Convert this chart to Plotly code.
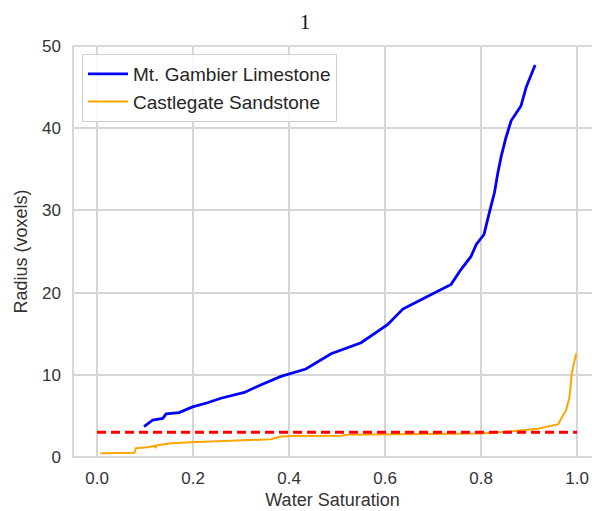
import plotly.graph_objects as go

# --- data ---
gambier_sw = [0.098, 0.105, 0.116, 0.137, 0.144, 0.171, 0.199, 0.23, 0.258, 0.307,
              0.342, 0.383, 0.421, 0.435, 0.4875, 0.55, 0.605, 0.637, 0.682, 0.7375,
              0.758, 0.779, 0.79, 0.806, 0.817, 0.828, 0.835, 0.842, 0.852, 0.8625,
              0.883, 0.894, 0.9125]
gambier_r = [3.7, 4.0, 4.5, 4.7, 5.24, 5.4, 6.1, 6.6, 7.15, 7.85,
             8.8, 9.8, 10.4, 10.7, 12.56, 13.9, 16.1, 18.0, 19.35, 21.0,
             22.8, 24.4, 25.85, 27.07, 29.7, 32.2, 34.6, 36.6, 38.9, 40.9,
             42.7, 45.0, 47.7]

castle_sw = [0.007, 0.078, 0.081, 0.105, 0.12, 0.122, 0.124, 0.154, 0.196, 0.3,
             0.3625, 0.38, 0.404, 0.51, 0.518, 0.8, 0.843, 0.869, 0.918, 0.942,
             0.961, 0.967, 0.977, 0.984, 0.989, 0.998]
castle_r = [0.45, 0.52, 1.06, 1.18, 1.35, 1.1, 1.4, 1.67, 1.8, 2.0,
            2.15, 2.45, 2.55, 2.6, 2.7, 2.85, 3.0, 3.15, 3.45, 3.75,
            4.0, 4.7, 5.7, 7.2, 10.2, 12.6]

threshold_sw = [0.0, 1.0]
threshold_r = [3.0, 3.0]

x_ticks = [0.0, 0.2, 0.4, 0.6, 0.8, 1.0]
x_tick_labels = ["0.0", "0.2", "0.4", "0.6", "0.8", "1.0"]
y_ticks = [0, 10, 20, 30, 40, 50]

fig = go.Figure()
fig.add_trace(go.Scatter(x=gambier_sw, y=gambier_r, mode="lines",
                         name="Mt. Gambier Limestone",
                         line=dict(color="#0000ff", width=2.8)))
fig.add_trace(go.Scatter(x=castle_sw, y=castle_r, mode="lines",
                         name="Castlegate Sandstone",
                         line=dict(color="#ffa500", width=2)))
fig.add_trace(go.Scatter(x=threshold_sw, y=threshold_r, mode="lines",
                         showlegend=False,
                         line=dict(color="#ff0000", width=3, dash="9px,5px")))

grid = "#d6d6d6"
fig.update_layout(
    width=592, height=511,
    margin=dict(l=73, r=0, t=46, b=54),
    paper_bgcolor="white", plot_bgcolor="white",
    font=dict(family="Liberation Sans, Arial, sans-serif", size=18, color="#333333"),
    title=dict(text="1", x=305/592, xanchor="center", y=1-22/511, yanchor="middle",
               font=dict(family="Liberation Serif, Times New Roman, serif", size=21, color="#111111")),
    xaxis=dict(range=[-0.05, 1.031], tickvals=x_ticks, ticktext=x_tick_labels,
               showgrid=True, gridcolor=grid, gridwidth=1.5, zeroline=False,
               showline=False, ticks="", ticklabelstandoff=9,
               tickfont=dict(size=17),
               title=dict(text="Water Saturation", standoff=6, font=dict(size=18))),
    yaxis=dict(range=[0, 50], tickvals=y_ticks,
               showgrid=True, gridcolor=grid, gridwidth=1.5, zeroline=False,
               showline=False, ticks="", ticklabelstandoff=11,
               tickfont=dict(size=17),
               title=dict(text="Radius (voxels)", standoff=9, font=dict(size=18))),
    legend=dict(x=(82-73)/519, y=1-(54-46)/411, xanchor="left", yanchor="top",
                bgcolor="rgba(255,255,255,0.85)", bordercolor="#d0d0d0", borderwidth=1,
                font=dict(size=19, color="#262626"), tracegroupgap=0,
                itemwidth=40),
    shapes=[dict(type="rect", xref="paper", yref="paper", x0=0, x1=1.05, y0=0, y1=1,
                 line=dict(color="#cccccc", width=1.5), fillcolor="rgba(0,0,0,0)",
                 layer="below")],
)

fig.write_html("out.html")
